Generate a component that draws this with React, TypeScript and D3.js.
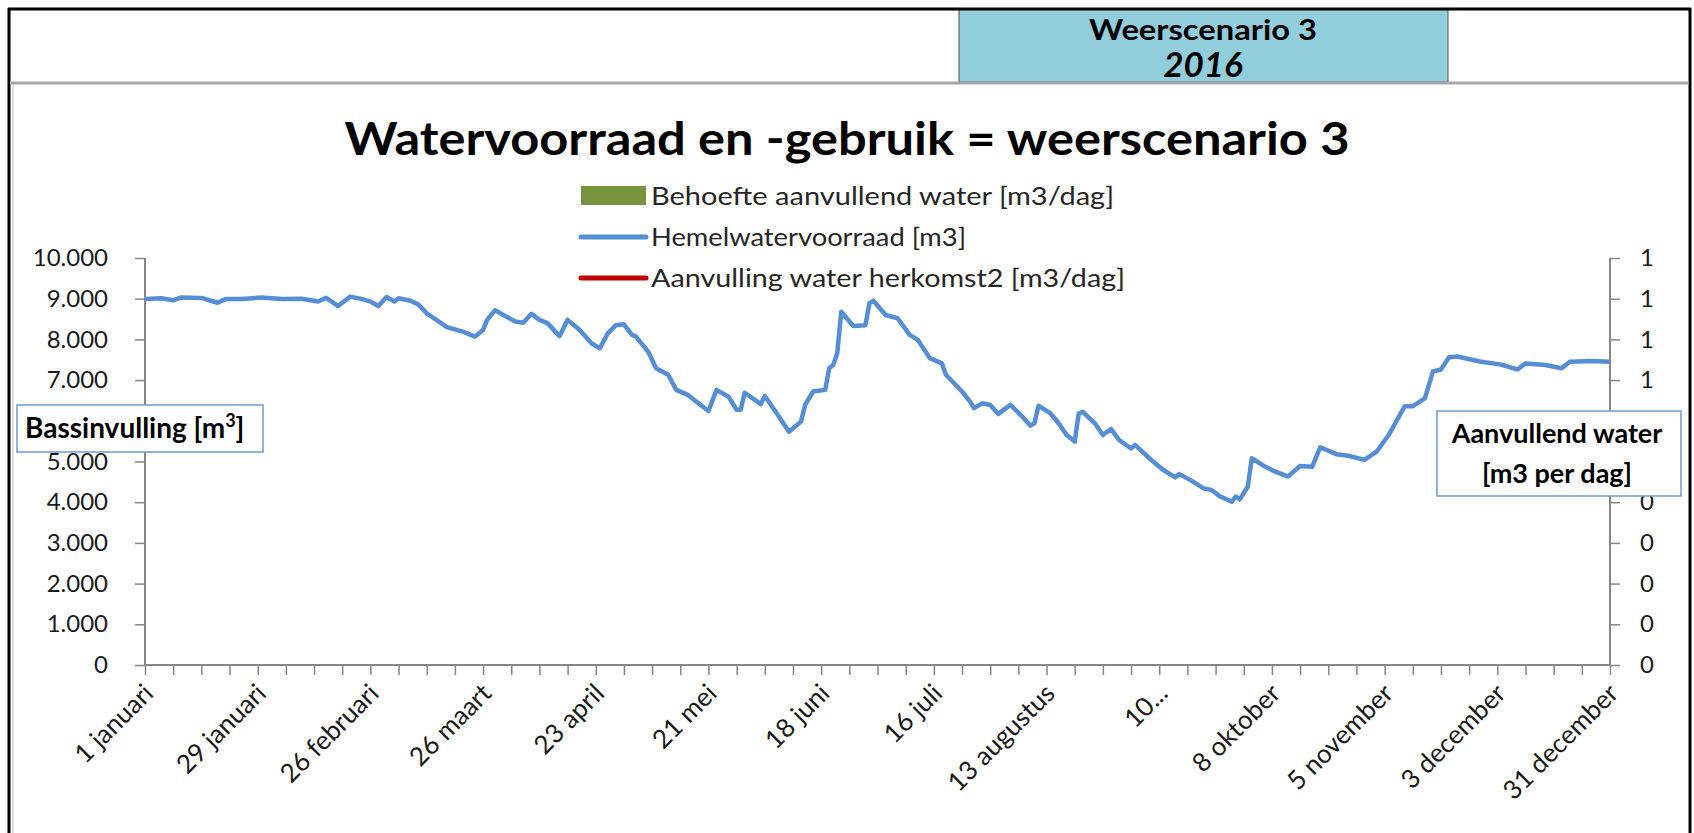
import React, { useEffect, useRef } from 'react';
import * as d3 from 'd3';

// dag van het jaar (0 = 1 januari) en hemelwatervoorraad in m3
const dagen = [0, 4, 7, 9, 14, 18, 20, 24, 29, 34, 39, 43, 45, 48, 49, 51, 54, 56, 58, 60, 62, 63, 66, 68, 70, 73, 75, 79, 82, 84, 85, 87, 89, 92, 94, 96, 98, 100, 103, 105, 108, 111, 113, 115, 117, 119, 121, 122, 125, 127, 130, 132, 135, 137, 140, 142, 145, 147, 148, 149, 151, 153, 154, 157, 160, 163, 164, 166, 169, 170, 171, 172, 173, 176, 179, 180, 181, 184, 187, 190, 192, 195, 198, 199, 203, 205, 206, 208, 210, 212, 215, 218, 220, 221, 222, 225, 227, 229, 231, 232, 233, 236, 238, 240, 242, 245, 246, 250, 253, 256, 257, 260, 263, 265, 267, 270, 271, 272, 274, 275, 278, 280, 282, 284, 287, 290, 292, 296, 299, 303, 306, 309, 313, 315, 318, 320, 322, 324, 326, 332, 337, 341, 343, 348, 352, 354, 359, 364];
const hemelwater = [8990, 9010, 8960, 9030, 9020, 8900, 8990, 8990, 9030, 8990, 9000, 8930, 9020, 8820, 8900, 9050, 8990, 8930, 8820, 9040, 8930, 9010, 8950, 8850, 8640, 8440, 8300, 8190, 8070, 8230, 8480, 8720, 8600, 8440, 8410, 8630, 8480, 8400, 8080, 8480, 8230, 7900, 7780, 8150, 8350, 8370, 8110, 8070, 7700, 7290, 7130, 6760, 6630, 6470, 6240, 6760, 6590, 6270, 6270, 6690, 6550, 6410, 6610, 6180, 5730, 5980, 6390, 6720, 6760, 7290, 7370, 7660, 8680, 8330, 8350, 8890, 8950, 8600, 8520, 8110, 7990, 7540, 7410, 7130, 6720, 6470, 6310, 6430, 6390, 6170, 6390, 6100, 5880, 5940, 6370, 6180, 5940, 5650, 5490, 6180, 6220, 5940, 5650, 5800, 5530, 5320, 5410, 5040, 4790, 4610, 4690, 4530, 4340, 4300, 4150, 4010, 4140, 4070, 4380, 5080, 4890, 4790, 4710, 4630, 4890, 4870, 5350, 5180, 5140, 5040, 5240, 5650, 6360, 6360, 6550, 7210, 7260, 7560, 7580, 7450, 7380, 7260, 7410, 7370, 7290, 7450, 7470, 7450];

const labelDagen = [0, 28, 56, 84, 112, 140, 168, 196, 224, 252, 280, 308, 336, 364];
const labelTekst = ['1 januari', '29 januari', '26 februari', '26 maart', '23 april', '21 mei', '18 juni', '16 juli', '13 augustus', '10...', '8 oktober', '5 november', '3 december', '31 december'];

const legendaItems = ['Behoefte aanvullend water [m3/dag]', 'Hemelwatervoorraad [m3]', 'Aanvulling water herkomst2 [m3/dag]'];
const legendaKleuren = ['#77933C', '#558ED5', '#C00000'];
const legendaBreedte = [463, 315, 474];

const W = 1694;
const H = 833;
const margin = { left: 145, right: W - 1610, top: 258, bottom: H - 665 };
const font = 'Lato, "Open Sans", sans-serif';

const nl = d3.formatLocale({ decimal: ',', thousands: '.', grouping: [3], currency: ['€', ''] });

// kaders van de astitels
const boxLinks = { x: 17, y: 405, w: 246, h: 47 };
const boxRechts = { x: 1437, y: 411, w: 244, h: 85 };

const App = () => {
  const svgRef = useRef(null);

  useEffect(() => {
    const svg = d3.select(svgRef.current);
    svg.selectAll('*').remove();

    const x = d3.scaleLinear().domain([0, 364]).range([margin.left, W - margin.right]);
    const y = d3.scaleLinear().domain([0, 10000]).range([H - margin.bottom, margin.top]);
    const y2 = d3.scaleLinear().domain([0, 1]).range([H - margin.bottom, margin.top]);

    // kader en kop
    svg.append('rect').attr('x', 0).attr('y', 0).attr('width', W).attr('height', H).attr('fill', '#fff');
    svg.append('rect').attr('x', 959).attr('y', 9).attr('width', 489).attr('height', 73)
      .attr('fill', '#92CDDC').attr('stroke', '#555').attr('stroke-width', 1);
    svg.append('line').attr('x1', 8).attr('x2', 1691).attr('y1', 9).attr('y2', 9).attr('stroke', '#000').attr('stroke-width', 3);
    svg.append('line').attr('x1', 9).attr('x2', 9).attr('y1', 8).attr('y2', H).attr('stroke', '#000').attr('stroke-width', 3);
    svg.append('line').attr('x1', 1690).attr('x2', 1690).attr('y1', 8).attr('y2', H).attr('stroke', '#000').attr('stroke-width', 3);
    svg.append('line').attr('x1', 10).attr('x2', 1689).attr('y1', 83).attr('y2', 83).attr('stroke', '#a6a6a6').attr('stroke-width', 3);
    svg.append('line').attr('x1', 13).attr('x2', 13).attr('y1', 84).attr('y2', H).attr('stroke', '#bfbfbf').attr('stroke-width', 1);

    svg.append('text').attr('x', 1203).attr('y', 40).attr('text-anchor', 'middle')
      .attr('font-family', font).attr('font-weight', 'bold').attr('font-size', 29).attr('fill', '#000')
      .attr('textLength', 228).attr('lengthAdjust', 'spacingAndGlyphs')
      .text('Weerscenario 3');
    svg.append('text').attr('x', 1203).attr('y', 77).attr('text-anchor', 'middle')
      .attr('font-family', font).attr('font-weight', 'bold').attr('font-style', 'italic').attr('font-size', 35).attr('fill', '#000')
      .text('2016');

    // titel
    svg.append('text').attr('x', 847).attr('y', 155).attr('text-anchor', 'middle')
      .attr('font-family', font).attr('font-weight', 'bold').attr('font-size', 45).attr('fill', '#000')
      .attr('textLength', 1005).attr('lengthAdjust', 'spacingAndGlyphs')
      .text('Watervoorraad en -gebruik = weerscenario 3');

    // legenda
    const legendY = [196, 237, 278];
    const leg = svg.append('g');
    legendaItems.forEach((naam, i) => {
      if (i === 0) {
        leg.append('rect').attr('x', 581).attr('y', legendY[i] - 10).attr('width', 65).attr('height', 19).attr('fill', legendaKleuren[i]);
      } else {
        leg.append('line').attr('x1', 581).attr('x2', 646).attr('y1', legendY[i]).attr('y2', legendY[i])
          .attr('stroke', legendaKleuren[i]).attr('stroke-width', 5).attr('stroke-linecap', 'round');
      }
      leg.append('text').attr('x', 651).attr('y', legendY[i] + 9)
        .attr('font-family', font).attr('font-size', 25).attr('fill', '#262626')
        .attr('textLength', legendaBreedte[i]).attr('lengthAdjust', 'spacingAndGlyphs')
        .text(naam);
    });

    // assen
    const axisColor = '#868686';
    const yAxis = svg.append('g').attr('transform', `translate(${margin.left},0)`)
      .call(d3.axisLeft(y).tickValues(d3.range(0, 10001, 1000)).tickSize(10).tickPadding(27).tickFormat(nl.format(',.0f')));
    const y2Axis = svg.append('g').attr('transform', `translate(${W - margin.right},0)`)
      .call(d3.axisRight(y2).tickValues(d3.range(0, 11).map(d => d / 10)).tickSize(10).tickPadding(22).tickFormat(d3.format('.0f')));
    const xAxis = svg.append('g').attr('transform', `translate(0,${H - margin.bottom})`)
      .call(d3.axisBottom(x).tickValues(d3.range(0, 365, 7)).tickSize(10).tickFormat(() => ''));

    [yAxis, y2Axis, xAxis].forEach(a => {
      a.select('.domain').attr('stroke', axisColor).attr('stroke-width', 2);
      a.selectAll('.tick line').attr('stroke', axisColor).attr('stroke-width', 1.5);
      a.selectAll('.tick text').attr('font-family', font).attr('font-size', 24).attr('fill', '#1a1a1a');
    });
    yAxis.select('.domain').attr('d', `M0,${y(10000)}V${y(0)}`);
    y2Axis.select('.domain').attr('d', `M0,${y(10000)}V${y(0)}`);
    xAxis.select('.domain').attr('d', `M${x(0)},0H${x(364)}`);
    y2Axis.selectAll('.tick text').attr('text-anchor', 'middle').attr('dx', 5);

    // labels die achter de astitels vallen zijn in het origineel onzichtbaar
    yAxis.selectAll('.tick').filter(d => y(d) > boxLinks.y && y(d) < boxLinks.y + boxLinks.h).select('text').remove();
    y2Axis.selectAll('.tick').filter(d => y2(d) > boxRechts.y && y2(d) < boxRechts.y + boxRechts.h).select('text').remove();

    svg.append('g').selectAll('text').data(labelDagen).join('text')
      .attr('transform', d => `translate(${x(d) + 10},${H - margin.bottom + 30}) rotate(-45)`)
      .attr('text-anchor', 'end')
      .attr('font-family', font).attr('font-size', 26).attr('fill', '#1a1a1a')
      .text((d, i) => labelTekst[i]);

    // hemelwatervoorraad
    const punten = dagen.map((d, i) => [d, hemelwater[i]]);
    svg.append('path').datum(punten)
      .attr('fill', 'none').attr('stroke', '#558ED5').attr('stroke-width', 4.5).attr('stroke-linejoin', 'round')
      .attr('d', d3.line().x(d => x(d[0])).y(d => y(d[1])));

    // astitels
    svg.append('rect').attr('x', boxLinks.x).attr('y', boxLinks.y).attr('width', boxLinks.w).attr('height', boxLinks.h)
      .attr('fill', '#fff').attr('stroke', '#6C9BD2').attr('stroke-width', 1.5);
    const t1 = svg.append('text').attr('x', 25).attr('y', 438)
      .attr('font-family', font).attr('font-weight', 'bold').attr('font-size', 28).attr('fill', '#000');
    t1.append('tspan').text('Bassinvulling [m');
    t1.append('tspan').attr('font-size', 18).attr('dy', -11).text('3');
    t1.append('tspan').attr('dy', 11).text(']');

    svg.append('rect').attr('x', boxRechts.x).attr('y', boxRechts.y).attr('width', boxRechts.w).attr('height', boxRechts.h)
      .attr('fill', '#fff').attr('stroke', '#6C9BD2').attr('stroke-width', 1.5);
    svg.append('text').attr('x', 1557).attr('y', 443).attr('text-anchor', 'middle')
      .attr('font-family', font).attr('font-weight', 'bold').attr('font-size', 27).attr('fill', '#000')
      .text('Aanvullend water');
    svg.append('text').attr('x', 1557).attr('y', 483).attr('text-anchor', 'middle')
      .attr('font-family', font).attr('font-weight', 'bold').attr('font-size', 27).attr('fill', '#000')
      .text('[m3 per dag]');
  }, []);

  return (
    <svg ref={svgRef} width={W} height={H} style={{ position: 'absolute', left: 0, top: 0 }}></svg>
  );
};

export default App;
